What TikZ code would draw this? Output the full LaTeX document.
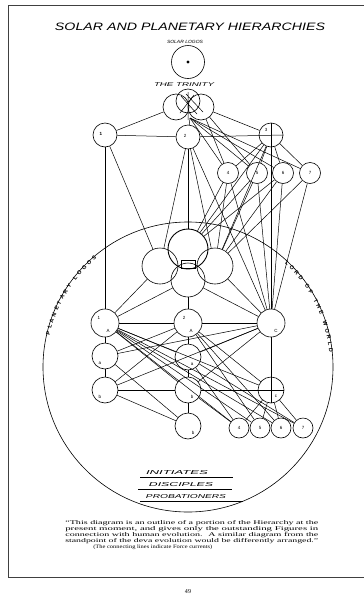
\documentclass[tikz,border=0pt]{standalone}
\usepackage{fontspec}
\setmainfont{Liberation Serif}
\newfontfamily\lettering{Liberation Sans}
\usetikzlibrary{decorations.text,calc}
\begin{document}
\begin{tikzpicture}[x=1pt,y=1pt,line width=0.6pt,
  orb/.style={circle,draw,inner sep=0pt,minimum size=#1,font=\lettering\fontsize{4.5}{5}\selectfont},
  glyph/.style={inner sep=0pt,font=\lettering\fontsize{4.5}{5}\selectfont},
  wire/.style={line width=0.5pt},
  frame/.style={line width=0.9pt,black!75},
  caps/.style={inner sep=0pt,font=\lettering\itshape}]
\useasboundingbox (0,0) rectangle (364,-600);
% page frame
\draw[frame] (364,-5) -- (8,-5) -- (8,-577) -- (364,-577);
% titles
\node[caps] (title) at (190,-27) {\resizebox{270pt}{7.5pt}{SOLAR AND PLANETARY HIERARCHIES}};
\node[caps] (sltext) at (185,-42) {\resizebox{36pt}{3.2pt}{SOLAR LOGOS}};
\node[caps] (trtext) at (184,-85) {\resizebox{60pt}{3.8pt}{THE TRINITY}};
% solar logos
\node[orb=33] (SL) at (188,-62) {};
\fill (SL.center) circle (1.6);
% trinity
\node[orb=26] (T1) at (176,-107) {};
\node[orb=26] (T2) at (201,-107) {};
\node[orb=24] (T3) at (188,-101) {};
\coordinate (TB) at (190,-118);
\draw[wire] (181,-96) -- (197,-114) (186,-94) -- (203,-112) (194,-95) -- (180,-113) (188,-92) -- (188,-120);
% row 1
\node[orb=24] (A1) at (105,-135) {};
\node[orb=24] (A2) at (188,-137) {};
\node[orb=24] (A3) at (271,-135) {};
\node[glyph] (a1) at (101,-134) {\bfseries 1};
\node[glyph] (a2) at (185,-136) {2};
\node[glyph] (a3) at (266,-130) {3};
% row 2
\node[orb=21] (B4) at (228,-173) {4};
\node[orb=21] (B5) at (257,-173) {5};
\node[orb=21] (B6) at (283,-173) {6};
\node[orb=21] (B7) at (310,-173) {7};
% big circle
\coordinate (O) at (188,-367);
\draw (O) circle (145);
\path[decorate,decoration={text along path,text align=fit to path,
  text={|\lettering\bfseries\fontsize{5.5}{5.5}\selectfont|PLANETARY LOGOS}}]
  ($(O)+(167:142)$) arc[start angle=167,end angle=130,radius=142];
\path[decorate,decoration={text along path,text align=fit to path,
  text={|\lettering\bfseries\fontsize{5.5}{5.5}\selectfont|LORD OF THE WORLD}}]
  ($(O)+(47:142)$) arc[start angle=47,end angle=6,radius=142];
% planetary trinity
\node[orb=40,line width=0.9pt] (P1) at (188,-249) {};
\node[orb=36] (P2) at (160,-266) {};
\node[orb=36] (P3) at (215,-266) {};
\node[orb=34] (P4) at (188,-280) {};
\node[draw,minimum width=14,minimum height=8,inner sep=0pt] (Pbox) at (188,-264) {};
% row 3
\node[orb=28] (C1) at (105,-323) {};
\node[orb=28] (C2) at (188,-323) {};
\node[orb=28] (C3) at (271,-323) {};
\node[glyph] (c1a) at (99,-318) {1};
\node[glyph] (c1b) at (108,-331) {A};
\node[glyph] (c2a) at (184,-318) {2};
\node[glyph] (c2b) at (191,-331) {A};
\node[glyph] (c3b) at (276,-331) {C};
% lower rows
\node[orb=26] (D1) at (105,-356) {};
\node[orb=26] (D2) at (188,-357) {};
\node[orb=26] (E1) at (105,-390) {};
\node[orb=26] (E2) at (188,-390) {};
\node[orb=26] (E3) at (271,-390) {};
\node[orb=26] (M6) at (188,-426) {};
\node[glyph] (d1) at (100,-363) {a};
\node[glyph] (d2) at (192,-364) {a};
\node[glyph] (e1) at (100,-397) {b};
\node[glyph] (e2) at (192,-397) {b};
\node[glyph] (e3) at (276,-396) {c};
\node[glyph] (m6) at (193,-433) {b};
\node[orb=20] (S4) at (239,-428) {4};
\node[orb=20] (S5) at (260,-428) {5};
\node[orb=20] (S6) at (281,-428) {6};
\node[orb=20] (S7) at (303,-428) {7};
% connectors upper
\draw[wire] (T1) -- (A1);
\draw[wire] (T2) -- (A3);
\draw[wire] (A1) -- (A2);
\draw[wire] (A2) -- (A3.east);
\draw[wire] (A3.north) -- (C3);
\draw[wire] (TB) -- (A2);
\foreach \t in {B4,B5,B6,B7} \draw[wire] (TB) -- (\t);
\draw[wire] (T2) -- (B4);
\draw[wire] (T2) -- (B5);
\draw[wire] (A2) -- (P2);
\draw[wire] (A2) -- (P1);
\draw[wire] (A2) -- (P3);
\draw[wire] (A2) -- (C3);
\draw[wire] (A1) -- (P2);
\draw[wire] (A1) -- (C1);
\foreach \t in {B4,B5,B6,B7} \draw[wire] (A3) -- (\t);
\draw[wire] (A3) -- (P1);
\draw[wire] (A3) -- (P3);
\foreach \s in {B4,B5,B6} {\draw[wire] (\s) -- (P1); \draw[wire] (\s) -- (P3);}
\draw[wire] (B7) -- (P3);
\foreach \s in {B4,B5,B6,B7} \draw[wire] (\s) -- (C3);
% planetary trinity to row 3
\draw[wire] (P2) -- (C1);
\draw[wire] (P4) -- (C1);
\draw[wire] (P3) -- (C3);
\draw[wire] (P4) -- (C3);
\draw[wire] (P4) -- (C2);
\draw[wire] (C1) -- (C2);
\draw[wire] (C2) -- (C3);
% lower connectors
\draw[wire] (C1) -- (D1);
\draw[wire] (D1) -- (E1);
\draw[wire] (C2) -- (D2);
\draw[wire] (D2) -- (E2);
\draw[wire] (E2) -- (M6);
\draw[wire] (C3) -- (E3.south);
\draw[wire] (E1) -- (E2);
\draw[wire] (E2) -- (E3.east);
\foreach \t in {D2,E2,E3,S4,S5,S6,S7} \draw[wire] (C1) -- (\t);
\foreach \t in {D1,E1,E3,S5,S6} \draw[wire] (C2) -- (\t);
\foreach \t in {D1,E1,D2,E2} \draw[wire] (C3) -- (\t);
\draw[wire] (E1) -- (M6);
\draw[wire] (D1) -- (M6);
\draw[wire] (D2) -- (S4);
\draw[wire] (D2) -- (S7);
\draw[wire] (E2) -- (S4);
\foreach \t in {S4,S5,S6,S7} \draw[wire] (E3) -- (\t);
% grades
\node[caps] (ini) at (177,-473) {\resizebox{62pt}{4pt}{INITIATES}};
\node[caps] (dis) at (181,-485) {\resizebox{64pt}{4pt}{DISCIPLES}};
\node[caps] (pro) at (186,-497) {\resizebox{80pt}{4pt}{PROBATIONERS}};
\coordinate (u1a) at (140,-477); \coordinate (u1b) at (233,-477);
\coordinate (u2a) at (138,-489); \coordinate (u2b) at (232,-489);
\coordinate (u3a) at (140,-501); \coordinate (u3b) at (243,-501);
\draw[line width=0.8pt] (u1a) -- (u1b);
\draw[line width=0.8pt] (u2a) -- (u2b);
\draw[line width=0.8pt] (u3a) -- (u3b);
% note
\node[inner sep=0pt,anchor=west] (q1) at (65,-523) {\resizebox{253pt}{4pt}{``This diagram is an outline of a portion of the Hierarchy at the}};
\node[inner sep=0pt,anchor=west] (q2) at (65,-529) {\resizebox{253pt}{4pt}{present moment, and gives only the outstanding Figures in}};
\node[inner sep=0pt,anchor=west] (q3) at (65,-535) {\resizebox{253pt}{4pt}{connection with human evolution. \ A similar diagram from the}};
\node[inner sep=0pt,anchor=west] (q4) at (65,-541) {\resizebox{253pt}{4pt}{standpoint of the deva evolution would be differently arranged.''}};
\node[inner sep=0pt,anchor=west] (q5) at (93,-547) {\resizebox{119pt}{3.6pt}{(The connecting lines indicate Force currents)}};
\node[inner sep=0pt] (pg) at (188,-592) {\resizebox{!}{4pt}{49}};
\end{tikzpicture}
\end{document}
